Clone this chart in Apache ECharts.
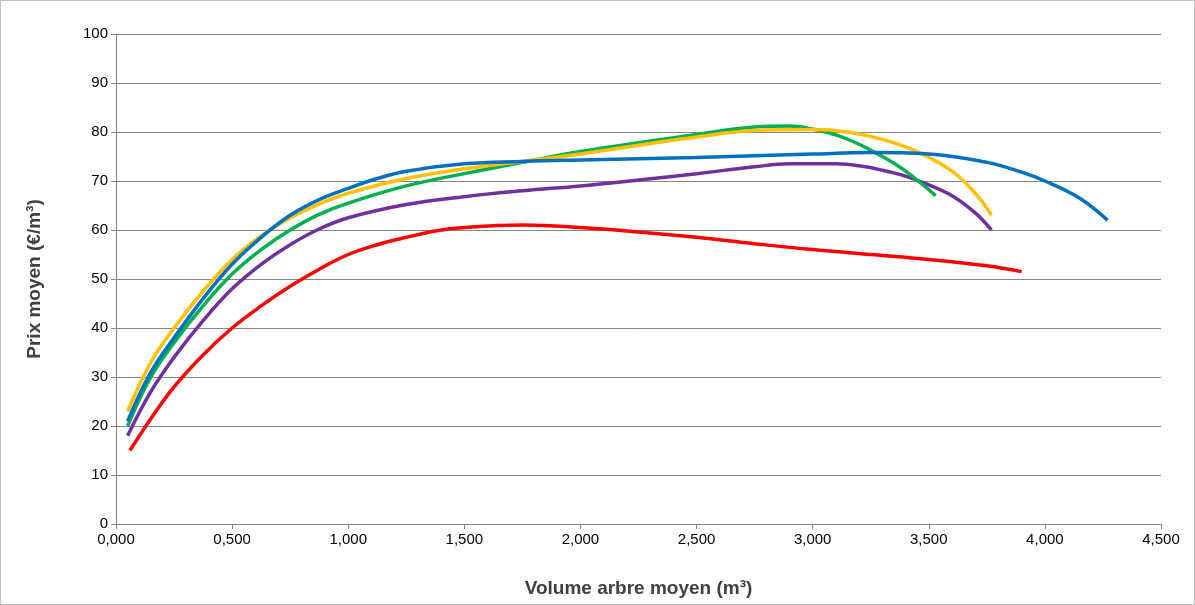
<!DOCTYPE html>
<html><head><meta charset="utf-8">
<script src="https://cdn.jsdelivr.net/npm/echarts@6/dist/echarts.min.js"></script>
<style>html,body{margin:0;padding:0;background:#fff}#c{width:1195px;height:605px;box-sizing:border-box;border:1px solid #bfbfbf}</style>
</head><body><div id="c"></div>
<script>
var red = [[0.06,15],[0.15,21.5],[0.25,28],[0.375,34.5],[0.5,40],[0.625,44.5],[0.75,48.5],[0.875,52],[1.0,55],[1.125,57],[1.25,58.5],[1.375,59.8],[1.5,60.5],[1.75,61],[2.0,60.5],[2.25,59.6],[2.5,58.5],[2.75,57.2],[3.0,56],[3.25,55],[3.5,54],[3.75,52.7],[3.9,51.5]];
var purple = [[0.05,18],[0.15,27],[0.25,34],[0.375,41.5],[0.5,48],[0.625,53],[0.75,57],[0.875,60.2],[1.0,62.5],[1.25,65.2],[1.5,66.8],[1.75,68],[2.0,69],[2.25,70.2],[2.5,71.5],[2.75,72.9],[2.9,73.5],[3.1,73.5],[3.2,73.1],[3.3,72.2],[3.4,71],[3.5,69.2],[3.6,67],[3.7,63.5],[3.77,60]];
var green = [[0.05,20],[0.15,30],[0.25,37],[0.375,44.5],[0.5,51],[0.625,56],[0.75,60],[0.875,63.2],[1.0,65.5],[1.25,69],[1.5,71.5],[1.75,73.8],[2.0,76],[2.25,77.8],[2.5,79.5],[2.75,81],[2.9,81.2],[3.0,80.6],[3.1,79.4],[3.2,77.5],[3.3,75],[3.4,72],[3.53,67]];
var orange = [[0.05,23],[0.15,33],[0.25,40],[0.375,47.5],[0.5,54],[0.625,58.8],[0.75,62.5],[0.875,65.3],[1.0,67.5],[1.25,70.5],[1.5,72.5],[1.75,74],[2.0,75.5],[2.25,77.3],[2.5,79],[2.75,80.3],[3.0,80.5],[3.15,80],[3.3,78.5],[3.45,76],[3.6,72],[3.7,67.5],[3.77,63]];
var blue = [[0.05,21],[0.15,31],[0.25,38],[0.375,46],[0.5,53],[0.625,58.5],[0.75,63],[0.875,66.2],[1.0,68.5],[1.125,70.5],[1.25,72],[1.5,73.5],[1.75,74],[2.0,74.3],[2.5,74.8],[3.0,75.5],[3.25,75.8],[3.5,75.5],[3.75,73.8],[3.9,71.8],[4.0,70],[4.15,66.5],[4.27,62]];

function line(data, color) {
  return {type: 'line', data: data, smooth: 0.4, showSymbol: false, lineStyle: {color: color, width: 3.5}, itemStyle: {color: color}};
}
var chart = echarts.init(document.getElementById('c'));
chart.setOption({
  animation: false,
  textStyle: {fontFamily: 'Liberation Sans'},
  grid: {left: 115, right: 33, top: 33, bottom: 80},
  xAxis: {type: 'value', min: 0, max: 4.5, interval: 0.5,
    name: 'Volume arbre moyen (m³)', nameLocation: 'middle', nameGap: 55,
    nameTextStyle: {fontSize: 19, fontWeight: 'bold', color: '#404040'},
    axisLine: {lineStyle: {color: '#868686'}}, axisTick: {show: true, lineStyle: {color: '#868686'}},
    axisLabel: {fontSize: 15, color: '#000', formatter: function (v) { return v.toFixed(3).replace('.', ','); }},
    splitLine: {show: false}},
  yAxis: {type: 'value', min: 0, max: 100, interval: 10,
    name: 'Prix moyen (€/m³)', nameLocation: 'middle', nameGap: 72,
    nameTextStyle: {fontSize: 19, fontWeight: 'bold', color: '#404040'},
    axisLine: {show: true, lineStyle: {color: '#868686'}}, axisTick: {show: true, lineStyle: {color: '#868686'}},
    axisLabel: {fontSize: 15, color: '#000'},
    splitLine: {lineStyle: {color: '#868686'}}},
  series: [line(red, '#ff0000'), line(purple, '#7030a0'), line(green, '#00b050'), line(orange, '#ffc000'), line(blue, '#0070c0')]
});
</script></body></html>
